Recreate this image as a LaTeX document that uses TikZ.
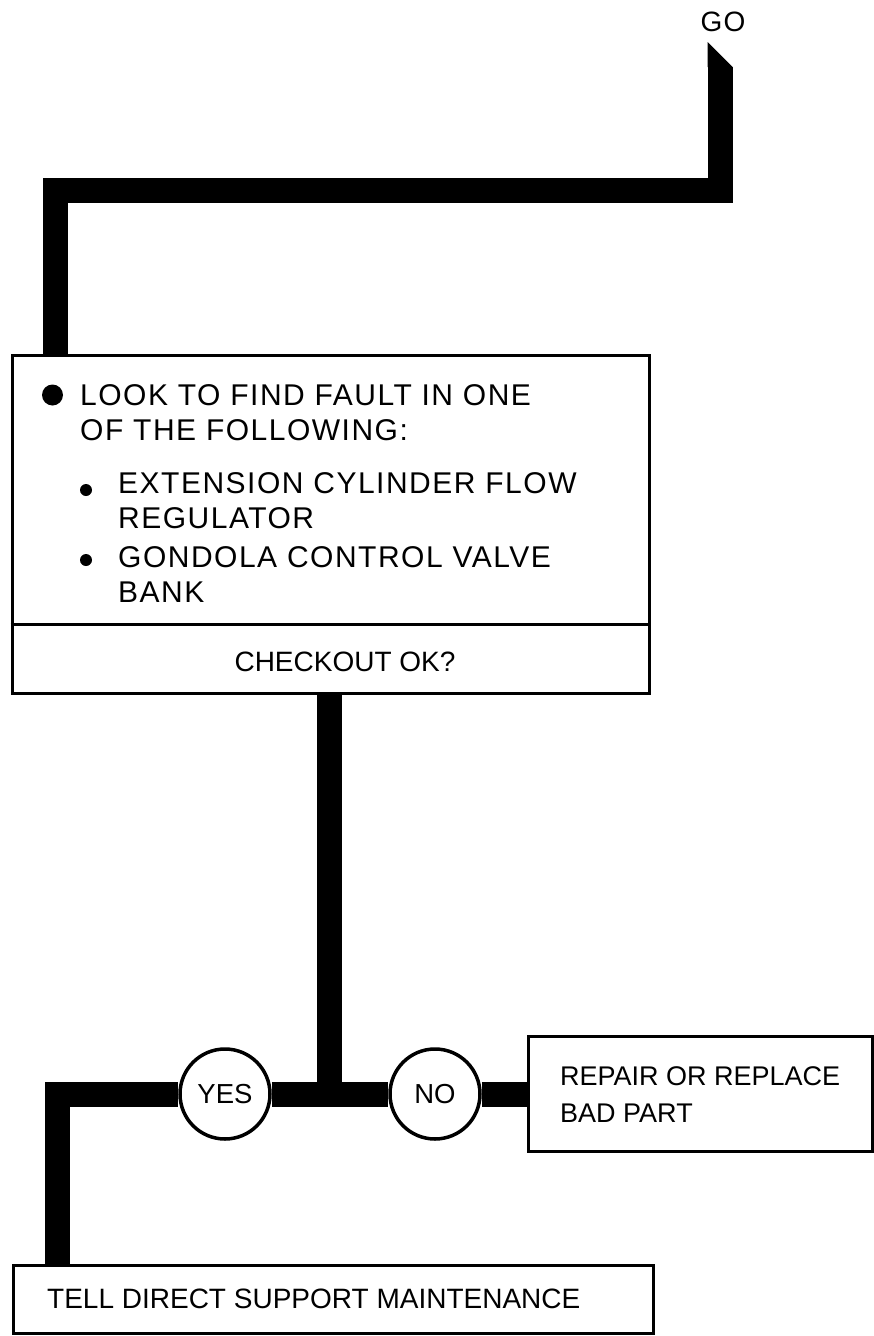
\documentclass[tikz,border=0pt]{standalone}
\usepackage{fontspec}
\setmainfont{Liberation Sans}
\newfontfamily\widefont[LetterSpace=5]{Liberation Sans}
\begin{document}
\begin{tikzpicture}[x=1pt,y=-1pt,
  box/.style={draw, line width=3pt, rectangle, inner sep=0pt},
  bar/.style={line width=25pt, line cap=butt, line join=miter},
  dec/.style={draw, circle, line width=3.5pt, fill=white, minimum size=90pt, inner sep=0pt, font=\fontsize{27.5}{30}\selectfont},
  maintxt/.style={anchor=base west, inner sep=0pt, font=\widefont\fontsize{30}{35}\selectfont},
  txt/.style={anchor=base west, inner sep=0pt, font=\fontsize{28}{34}\selectfont},
  dot/.style={circle, fill=black, inner sep=0pt}]
\useasboundingbox (0,0) rectangle (874,1336);
% boxes
\node[box, minimum width=637pt, minimum height=338pt] (main) at (330.5,524) {};
\coordinate (dv) at (0,624);
\draw[line width=3pt] (main.west |- dv) -- (main.east |- dv);
\node[box, minimum width=344pt, minimum height=115pt] (repair) at (700,1094) {};
\node[box, minimum width=640pt, minimum height=68pt] (tell) at (333,1299) {};
\node[dec] (yes) at (225,1094) {YES};
\node[dec] (no) at (435,1094) {NO};
\node[font=\widefont\fontsize{28}{34}\selectfont, inner sep=0pt, anchor=base] (go) at (723,31) {GO};
% texts
\node[dot, minimum size=21pt] (b0) at (52.5,395) {};
\node[maintxt] (t1) at (80,405) {LOOK TO FIND FAULT IN ONE};
\node[maintxt] (t2) at (80,440) {OF THE FOLLOWING:};
\node[dot, minimum size=12pt] (b1) at (86,490) {};
\node[maintxt] (t3) at (118,493) {EXTENSION CYLINDER FLOW};
\node[maintxt] (t4) at (118,528) {REGULATOR};
\node[dot, minimum size=12pt] (b2) at (86,560) {};
\node[maintxt] (t5) at (118,567) {GONDOLA CONTROL VALVE};
\node[maintxt] (t6) at (118,602) {BANK};
\node[txt, anchor=base] (chk) at (345,671) {CHECKOUT OK?};
\node[txt, font=\fontsize{27}{34}\selectfont] (r1) at (560,1085) {REPAIR OR REPLACE};
\node[txt, font=\fontsize{27}{34}\selectfont] (r2) at (560,1122) {BAD PART};
\node[txt] (tl) at (47,1308) {TELL DIRECT SUPPORT MAINTENANCE};
% connectors
\coordinate (gotip) at (720,67);
\coordinate (lc) at (55.5,190.5);
\fill (707.5,42) -- (707.5,67) -- (732.5,67) -- cycle;
\draw[bar] (gotip) |- (lc) -- (lc |- main.north);
\coordinate (jn) at (329.5,1094);
\draw[bar] (jn |- main.south) -- (jn);
\coordinate (xl) at (57.5,0);
\draw[bar] (xl |- tell.north) |- (yes.west);
\draw[bar] (yes.east) -- (no.west);
\draw[bar] (no.east) -- (repair.west);
\end{tikzpicture}
\end{document}
